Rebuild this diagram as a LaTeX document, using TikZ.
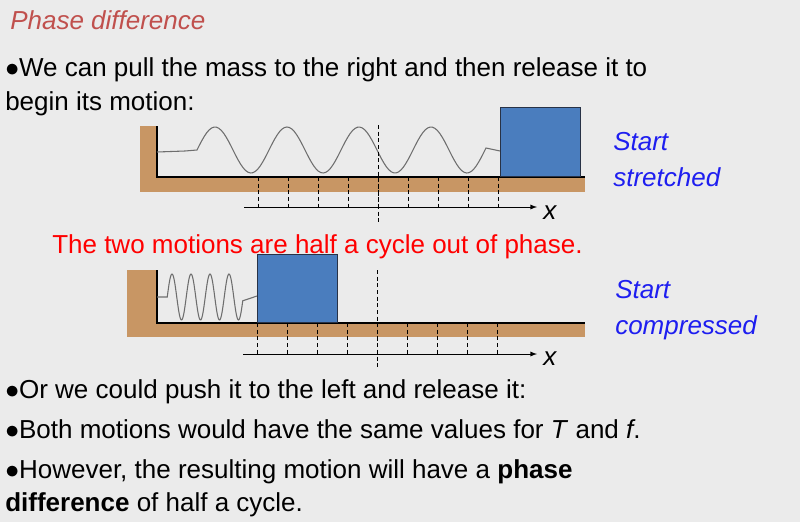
\documentclass[tikz,border=0pt]{standalone}
\usepackage{fontspec}
\setmainfont{Liberation Sans}
\definecolor{bg}{RGB}{235,235,235}
\definecolor{groundc}{RGB}{200,150,100}
\definecolor{massc}{RGB}{74,125,190}
\definecolor{massd}{RGB}{40,50,70}
\definecolor{springc}{RGB}{110,110,110}
\definecolor{bluet}{RGB}{30,30,240}
\definecolor{titlec}{RGB}{192,80,77}
\begin{document}
\begin{tikzpicture}[x=0.75pt,y=-0.75pt,
  txt/.style={anchor=base west,inner sep=0pt,font=\fontsize{19.5}{22}\selectfont},
  ground/.style={fill=groundc,draw=none},
  mass/.style={fill=massc,draw=massd,line width=0.8pt},
  springline/.style={draw=springc,line width=0.8pt},
  tick/.style={densely dashed,line width=0.6pt},
  axisline/.style={-latex,line width=0.7pt},
  bluetxt/.style={txt,text=bluet,font=\fontsize{19.5}{22}\selectfont\itshape}]
\fill[bg] (0,0) rectangle (800,522);
\useasboundingbox (0,0) rectangle (800,522);
\node[txt,text=titlec,font=\fontsize{19.5}{22}\selectfont\itshape] (title) at (10,29) {Phase difference};
\node[txt] (l1) at (5,76) {$\bullet$We can pull the mass to the right and then release it to};
\node[txt] (l2) at (5,110) {begin its motion:};
% top diagram
\fill[ground] (140,126) rectangle (157,192);
\fill[ground] (140,177) rectangle (585,192);
\draw[line width=0.8pt] (157,126) -- (157,177) -- (585,177);
\draw[springline] (157,152) -- (185,151) -- plot[domain=197:486,samples=120] (\x,{150-23*cos(5*(\x-215))}) -- (500,151);
\node[mass,minimum width=60,minimum height=52,inner sep=0pt,anchor=south west] (m1) at (500,177) {};
\foreach \i in {258,288,...,498} \draw[tick] (\i,177) -- (\i,207);
\draw[tick] (378,125) -- (378,222);
\coordinate (a1s) at (244,207);
\coordinate (a1e) at (537,207);
\draw[axisline] (a1s) -- (a1e);
\node[txt,font=\fontsize{19.5}{22}\selectfont\itshape] (x1) at (543,219) {x};
\node[bluetxt] (s1) at (613,150) {Start};
\node[bluetxt] (s2) at (613,186) {stretched};
\node[txt,text=red] (red) at (52,253) {The two motions are half a cycle out of phase.};
% bottom diagram
\fill[ground] (127,270) rectangle (157,337);
\fill[ground] (127,322) rectangle (585,337);
\draw[line width=0.8pt] (157,270) -- (157,323) -- (585,323);
\draw[springline] (157,297) -- (163,297) -- plot[domain=167.25:242.75,samples=120] (\x,{297-23*cos(18.947*(\x-172))}) -- (257,296);
\node[mass,minimum width=60,minimum height=51,inner sep=0pt,anchor=south west] (m2) at (257,323) {};
\foreach \i in {257,287,...,497} \draw[tick] (\i,323) -- (\i,354);
\draw[tick] (377,270) -- (377,368);
\coordinate (a2s) at (243,354);
\coordinate (a2e) at (537,354);
\draw[axisline] (a2s) -- (a2e);
\node[txt,font=\fontsize{19.5}{22}\selectfont\itshape] (x2) at (543,365) {x};
\node[bluetxt] (c1) at (615,298) {Start};
\node[bluetxt] (c2) at (615,334) {compressed};
\node[txt] (l3) at (5,398) {$\bullet$Or we could push it to the left and release it:};
\node[txt] (l4) at (5,438) {$\bullet$Both motions would have the same values for \textit{T} and \textit{f}.};
\node[txt] (l5) at (5,478) {$\bullet$However, the resulting motion will have a \textbf{phase}};
\node[txt] (l6) at (5,511) {\textbf{difference} of half a cycle.};
\end{tikzpicture}
\end{document}
